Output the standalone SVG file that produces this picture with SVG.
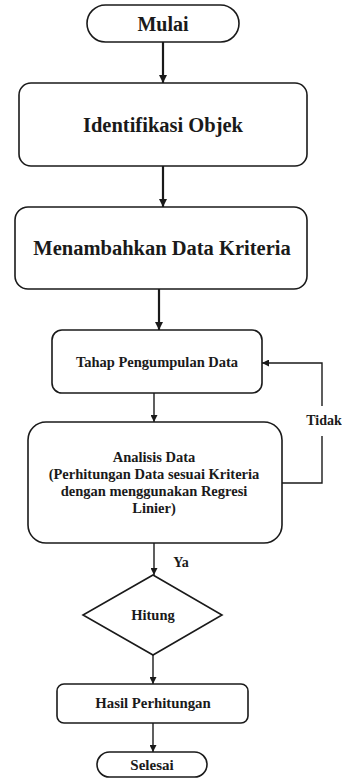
<svg xmlns="http://www.w3.org/2000/svg" width="342" height="778" viewBox="0 0 342 778">
<style>
.box{fill:#fff;stroke:#1a1a1a;stroke-width:1.6}
.t{font-family:'Liberation Serif','Times New Roman',Tinos,'DejaVu Serif',serif;font-weight:bold;fill:#1a1a1a;text-anchor:middle}
.c{fill:none;stroke:#1a1a1a}
.thick{stroke-width:2.2}
.thin{stroke-width:1.4}
</style>
<defs>
<marker id="ah" viewBox="0 0 10 10" refX="10" refY="5" markerWidth="8" markerHeight="8" markerUnits="userSpaceOnUse" orient="auto">
<path d="M0,0 L10,5 L0,10 Z" fill="#1a1a1a"/>
</marker>
<marker id="ahs" viewBox="0 0 10 10" refX="10" refY="5" markerWidth="7" markerHeight="7" markerUnits="userSpaceOnUse" orient="auto">
<path d="M0,0 L10,5 L0,10 Z" fill="#1a1a1a"/>
</marker>
</defs>
<rect width="342" height="778" fill="#fff"/>
<g id="connectors">
<line class="c thick" x1="163" y1="42" x2="163" y2="83" marker-end="url(#ah)"/>
<line class="c thick" x1="163" y1="166" x2="163" y2="207" marker-end="url(#ah)"/>
<line class="c thick" x1="159" y1="289" x2="159" y2="330" marker-end="url(#ah)"/>
<line class="c thin" x1="154" y1="393" x2="154" y2="422" marker-end="url(#ahs)"/>
<line class="c thin" x1="154" y1="543" x2="154" y2="575" marker-end="url(#ahs)"/>
<line class="c thin" x1="153" y1="655" x2="153" y2="684" marker-end="url(#ahs)"/>
<line class="c thin" x1="153" y1="723" x2="153" y2="752" marker-end="url(#ahs)"/>
<polyline class="c thin" points="282,483 322,483 322,363 262,363" marker-end="url(#ahs)"/>
<rect x="304" y="406" width="38" height="30" fill="#fff"/>
<text class="t" x="324" y="425" font-size="14" font-family="Liberation Serif, serif">Tidak</text>
<rect x="169" y="553" width="26" height="20" fill="#fff"/>
<text class="t" x="181" y="567" font-size="14" font-family="Liberation Serif, serif">Ya</text>
</g>
<g id="mulai">
<rect class="box" x="87" y="5" width="152" height="37" rx="18.5"/>
<text class="t" x="163" y="31" font-size="20" font-family="Liberation Serif, serif">Mulai</text>
</g>
<g id="identifikasi">
<rect class="box" x="19" y="83" width="288" height="83" rx="12"/>
<text class="t" x="163" y="132" font-size="20.5" font-family="Liberation Serif, serif">Identifikasi Objek</text>
</g>
<g id="menambahkan">
<rect class="box" x="15" y="207" width="292" height="82" rx="13"/>
<text class="t" x="162" y="255" font-size="20.5" font-family="Liberation Serif, serif">Menambahkan Data Kriteria</text>
</g>
<g id="tahap">
<rect class="box" x="52" y="330" width="210" height="63" rx="10"/>
<text class="t" x="157" y="367" font-size="14.5" font-family="Liberation Serif, serif">Tahap Pengumpulan Data</text>
</g>
<g id="analisis">
<rect class="box" x="28" y="422" width="254" height="121" rx="18"/>
<text class="t" x="154" y="462" font-size="14.5" font-family="Liberation Serif, serif">Analisis Data</text>
<text class="t" x="154" y="479" font-size="14.5" font-family="Liberation Serif, serif">(Perhitungan Data sesuai Kriteria</text>
<text class="t" x="154" y="496" font-size="14.5" font-family="Liberation Serif, serif">dengan menggunakan Regresi</text>
<text class="t" x="154" y="513" font-size="14.5" font-family="Liberation Serif, serif">Linier)</text>
</g>
<g id="hitung">
<polygon class="box" points="153,575 222,615 153,655 83,615"/>
<text class="t" x="153" y="620" font-size="14.5" font-family="Liberation Serif, serif">Hitung</text>
</g>
<g id="hasil">
<rect class="box" x="57" y="684" width="191" height="39" rx="7"/>
<text class="t" x="153" y="708" font-size="14.8" font-family="Liberation Serif, serif">Hasil Perhitungan</text>
</g>
<g id="selesai">
<rect class="box" x="97" y="752" width="110" height="25" rx="12.5"/>
<text class="t" x="152" y="770" font-size="15" font-family="Liberation Serif, serif">Selesai</text>
</g>
</svg>
